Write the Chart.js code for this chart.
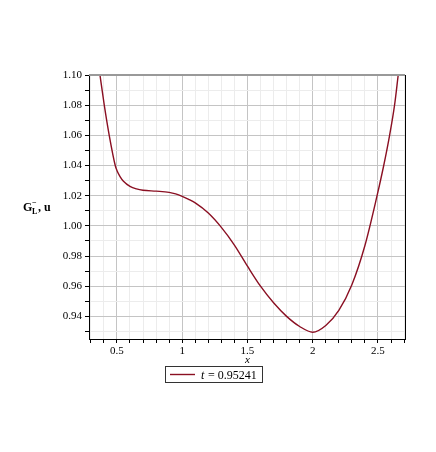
<!DOCTYPE html>
<html>
<head>
<meta charset="utf-8">
<script src="https://cdn.jsdelivr.net/npm/chart.js@4/dist/chart.umd.min.js"></script>
<style>
  html, body { margin: 0; padding: 0; background: #fff; }
  #wrap { width: 436px; height: 452px; }
</style>
</head>
<body>
<div id="wrap"><canvas id="c" width="436" height="452"></canvas></div>
<script>
// curve
const xValues = [0.37, 0.403, 0.441, 0.487, 0.50, 0.525, 0.55, 0.60, 0.65, 0.70, 0.80, 0.90, 0.95, 1.00,
                 1.05, 1.10, 1.20, 1.30, 1.40, 1.50, 1.60, 1.70, 1.80, 1.90, 2.00, 2.10, 2.20, 2.30, 2.40,
                 2.493, 2.544, 2.589, 2.627, 2.655];
const uValues = [1.100, 1.080, 1.060, 1.040, 1.0367, 1.0325, 1.0296, 1.0262, 1.0245, 1.0236, 1.0230, 1.0222,
                 1.0212, 1.0196, 1.0176, 1.0152, 1.0085, 0.9990, 0.9873, 0.9733, 0.9600, 0.9490, 0.9400,
                 0.9333, 0.9295, 0.9340, 0.9440, 0.9610, 0.9870, 1.020, 1.040, 1.060, 1.080, 1.100];
const seriesLabel = 't = 0.95241';

const lineColor = '#8a0f22';
const serif = '"Liberation Serif", "DejaVu Serif", serif';

const isMajor = (v, step) => Math.abs(v / step - Math.round(v / step)) < 1e-6;

const extras = {
    id: 'extras',
    afterDraw(chart) {
        const ctx = chart.ctx;
        const a = chart.chartArea;
        ctx.save();
        // frame
        ctx.strokeStyle = '#999';
        ctx.lineWidth = 2;
        ctx.beginPath(); ctx.moveTo(a.left, a.top); ctx.lineTo(a.right, a.top); ctx.stroke();
        ctx.strokeStyle = '#000';
        ctx.lineWidth = 1;
        ctx.beginPath(); ctx.moveTo(a.right + 0.5, a.top); ctx.lineTo(a.right + 0.5, a.bottom); ctx.stroke();

        // y title
        ctx.fillStyle = '#000';
        ctx.textBaseline = 'alphabetic';
        ctx.font = 'bold 12px ' + serif;
        ctx.fillText('G', 23, 211);
        ctx.font = 'bold 8px ' + serif;
        ctx.fillText('L', 32, 214);
        ctx.fillText('\u2212', 32, 205);
        ctx.font = 'bold 12px ' + serif;
        ctx.fillText(', u', 38, 211);

        // x title
        ctx.font = 'italic 11px ' + serif;
        ctx.textAlign = 'center';
        ctx.fillText('x', (a.left + a.right) / 2 + 0.5, 363);

        // legend
        ctx.textAlign = 'left';
        ctx.strokeStyle = '#333';
        ctx.lineWidth = 1;
        ctx.strokeRect(165.5, 366.5, 97, 16);
        ctx.strokeStyle = lineColor;
        ctx.lineWidth = 1.4;
        ctx.beginPath(); ctx.moveTo(170, 374.5); ctx.lineTo(195, 374.5); ctx.stroke();
        ctx.font = 'italic 12px ' + serif;
        ctx.fillText('t', 201, 378.5);
        ctx.font = '12px ' + serif;
        ctx.fillText(seriesLabel.slice(1), 205, 378.5);
        ctx.restore();
    }
};

new Chart(document.getElementById('c').getContext('2d'), {
    type: 'line',
    data: {
        datasets: [{
            label: seriesLabel,
            data: xValues.map((x, i) => ({ x: x, y: uValues[i] })),
            borderColor: lineColor,
            borderWidth: 1.4,
            pointRadius: 0,
            cubicInterpolationMode: 'monotone',
            fill: false
        }]
    },
    options: {
        responsive: false,
        animation: false,
        layout: { padding: { left: 0, right: 31, top: 75, bottom: 0 } },
        plugins: { legend: { display: false }, tooltip: { enabled: false } },
        scales: {
            x: {
                type: 'linear',
                min: 0.286,
                max: 2.707,
                afterFit(scale) { scale.height = 452 - 339; },
                border: { color: '#000', width: 1 },
                grid: {
                    color: c => isMajor(c.tick.value, 0.5) ? '#c4c4c4' : '#ececec',
                    tickColor: '#000',
                    tickLength: 4
                },
                ticks: {
                    stepSize: 0.1,
                    includeBounds: false,
                    autoSkip: false,
                    maxRotation: 0,
                    color: '#000',
                    font: { family: serif, size: 11 },
                    padding: 2,
                    callback: v => isMajor(v, 0.5) ? String(Math.round(v * 10) / 10) : ''
                }
            },
            y: {
                min: 0.925,
                max: 1.10,
                afterFit(scale) { scale.width = 89; },
                border: { color: '#000', width: 1 },
                grid: {
                    color: c => isMajor(c.tick.value, 0.02) ? '#c4c4c4' : '#ececec',
                    tickColor: '#000',
                    tickLength: 4
                },
                ticks: {
                    stepSize: 0.01,
                    includeBounds: false,
                    autoSkip: false,
                    color: '#000',
                    font: { family: serif, size: 11 },
                    padding: 3,
                    callback: v => isMajor(v, 0.02) ? v.toFixed(2) : ''
                }
            }
        }
    },
    plugins: [extras]
});
</script>
</body>
</html>
